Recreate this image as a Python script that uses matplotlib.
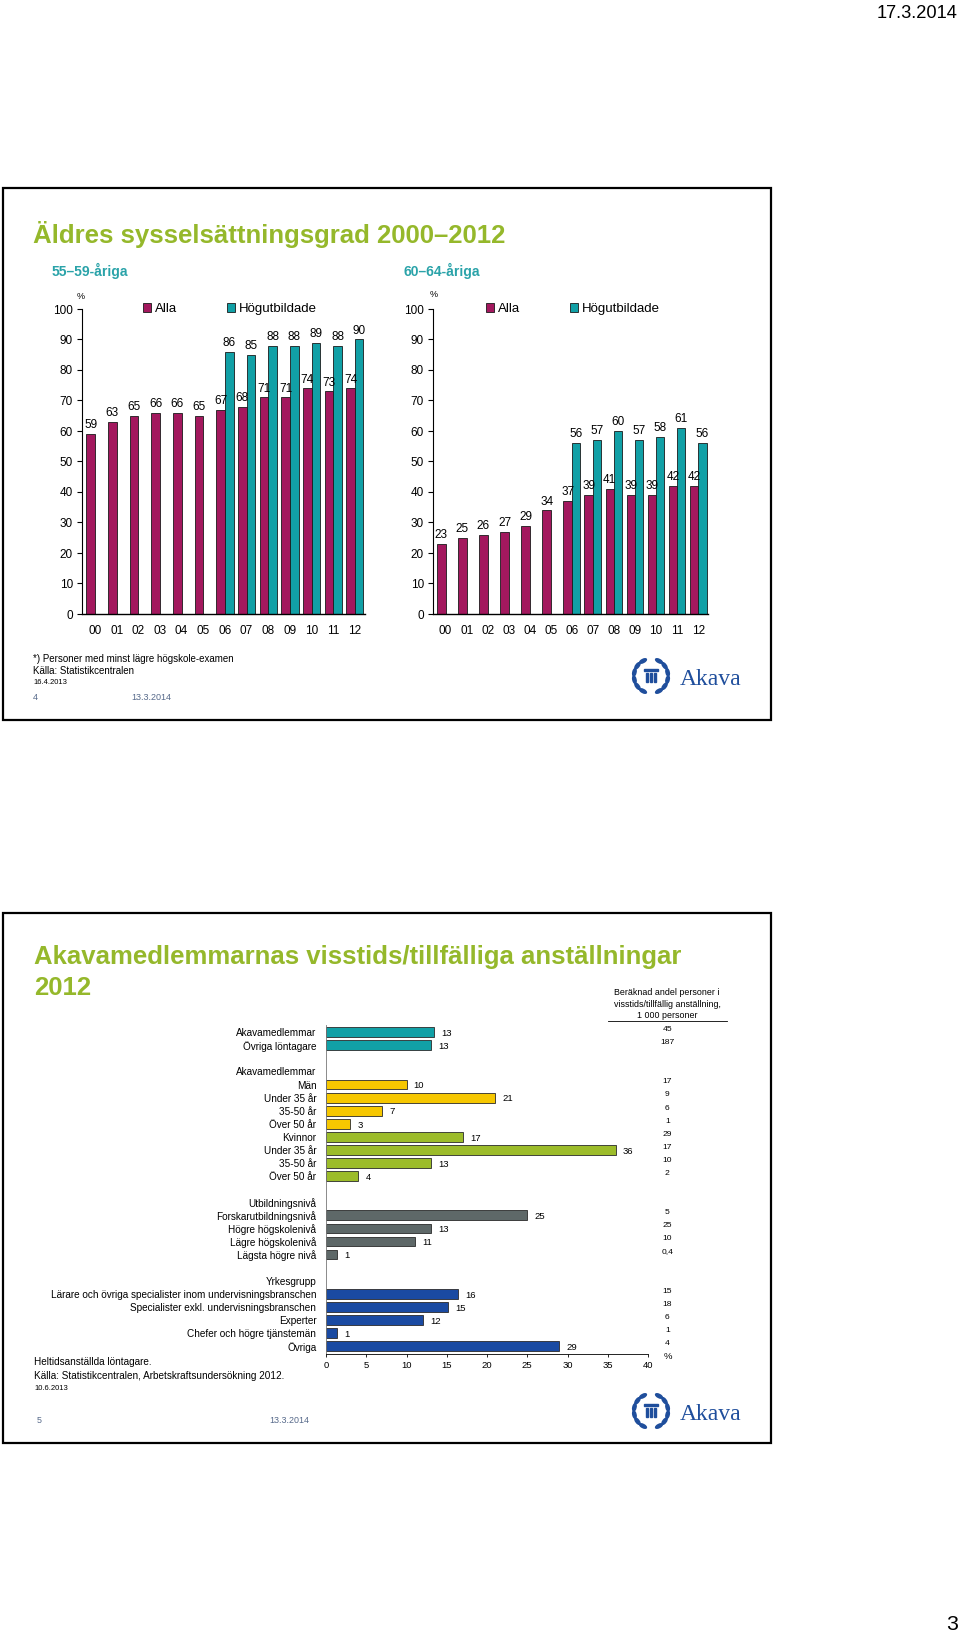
import numpy as np
import matplotlib
matplotlib.use('Agg')
import matplotlib.pyplot as plt
from matplotlib import font_manager
from matplotlib.patches import Rectangle, Ellipse

W, H = 960, 1635

# ---- slide 4: employment rate of older people, %
years = ['00', '01', '02', '03', '04', '05', '06', '07', '08', '09', '10', '11', '12']
alla_55_59 = [59, 63, 65, 66, 66, 65, 67, 68, 71, 71, 74, 73, 74]
hog_55_59 = [86, 85, 88, 88, 89, 88, 90]      # Högutbildade, 06-12
alla_60_64 = [23, 25, 26, 27, 29, 34, 37, 39, 41, 39, 39, 42, 42]
hog_60_64 = [56, 57, 60, 57, 58, 61, 56]
hog_from = 6

# ---- slide 5: share in fixed-term jobs 2012, %  (+ estimate in 1 000 persons)
total_labels = ['Akavamedlemmar', 'Övriga löntagare']
total_pct = [13.4, 13.0]
total_thous = ['45', '187']

men_labels = ['Män', 'Under 35 år', '35-50 år', 'Över 50 år']
men_pct = [10, 21, 7, 3]
men_thous = ['17', '9', '6', '1']

women_labels = ['Kvinnor', 'Under 35 år', '35-50 år', 'Över 50 år']
women_pct = [17, 36, 13, 4]
women_thous = ['29', '17', '10', '2']

edu_labels = ['Forskarutbildningsnivå', 'Högre högskolenivå', 'Lägre högskolenivå', 'Lägsta högre nivå']
edu_pct = [25, 13, 11, 1.4]
edu_thous = ['5', '25', '10', '0,4']

occ_labels = ['Lärare och övriga specialister inom undervisningsbranschen',
              'Specialister exkl. undervisningsbranschen', 'Experter',
              'Chefer och högre tjänstemän', 'Övriga']
occ_pct = [16.4, 15.2, 12, 1.4, 29]
occ_thous = ['15', '18', '6', '1', '4']

MAG = '#A3185E'
TEAL = '#11A0A6'
GREEN_T = '#95B82B'
SUB_T = '#2AA3A9'
YEL = '#F6C700'
LGREEN = '#9CBC2A'
GREY = '#5E6868'
BLUE = '#1A4AA2'
LOGO = '#1F4E9C'
SLATE = '#56698A'

fonts = {f.name for f in font_manager.fontManager.ttflist}
if 'Liberation Sans Narrow' in fonts:
    narrow, nk = 'Liberation Sans Narrow', 1.0
else:
    narrow, nk = 'Liberation Sans', 0.85
plt.rcParams['font.family'] = ['Liberation Sans', 'DejaVu Sans']

fig = plt.figure(figsize=(W / 100, H / 100), dpi=100)
page = fig.add_axes([0, 0, 1, 1])
page.set_xlim(0, W)
page.set_ylim(H, 0)
page.axis('off')


def px_axes(x0, y0, x1, y1):
    # axes from pixel box (y counted from the top)
    ax = fig.add_axes([x0 / W, 1 - y1 / H, (x1 - x0) / W, (y1 - y0) / H])
    ax.patch.set_alpha(0)
    return ax


def akava_logo(cx, cy):
    r = 17
    for t in np.r_[np.linspace(118, 242, 6), np.linspace(-62, 62, 6)]:
        tr = np.radians(t)
        px, py = cx + r * np.cos(tr), cy - r * np.sin(tr)
        ang = np.degrees(np.arctan2(-np.cos(tr), -np.sin(tr)))
        page.add_patch(Ellipse((px, py), 7.5, 3.2, angle=ang, color=LOGO))
    page.add_patch(Rectangle((cx - 7, cy - 7), 14, 2.4, color=LOGO))
    for dx in (-4, 0, 4):
        page.add_patch(Rectangle((cx + dx - 0.9, cy - 3), 1.8, 9, color=LOGO))
    page.text(cx + 29, cy + 3, 'Akava', family=['Liberation Serif', 'DejaVu Serif'],
              fontsize=17, color=LOGO, ha='left', va='center')


# page furniture
page.text(958, 13, '17.3.2014', family=narrow, fontsize=15.5 * nk, ha='right', va='center')
page.text(958, 1624, '3', family=narrow, fontsize=18 * nk, ha='right', va='center')
page.add_patch(Rectangle((3, 188), 768, 532, fill=False, lw=1.6, ec='black'))
page.add_patch(Rectangle((3, 913), 768, 530, fill=False, lw=1.6, ec='black'))

# ---------------- slide 4 ----------------
page.text(33, 234, 'Äldres sysselsättningsgrad 2000–2012', fontsize=18.5,
          fontweight='bold', color=GREEN_T, ha='left', va='center')
page.text(52, 271, '55–59-åriga', fontsize=10, fontweight='bold', color=SUB_T, va='center')
page.text(403, 271, '60–64-åriga', fontsize=10, fontweight='bold', color=SUB_T, va='center')


def column_chart(ax, alla, hog, legend_x):
    x = np.arange(len(years))
    b1 = ax.bar(x - 0.2, alla, 0.4, color=MAG, edgecolor='#1a1a1a', lw=0.6, label='Alla')
    b2 = ax.bar(x[hog_from:] + 0.2, hog, 0.4, color=TEAL, edgecolor='#1a1a1a', lw=0.6,
                label='Högutbildade')
    ax.bar_label(b1, padding=2, fontsize=8.5)
    ax.bar_label(b2, padding=2, fontsize=8.5)
    ax.set_xlim(-0.6, 12.47)
    ax.set_ylim(0, 100)
    ax.set_yticks(range(0, 101, 10))
    ax.set_xticks(x, years)
    ax.tick_params(axis='x', length=0, pad=8, labelsize=8.5)
    ax.tick_params(axis='y', length=3.5, width=0.8, pad=3, labelsize=8.5)
    ax.spines['top'].set_visible(False)
    ax.spines['right'].set_visible(False)
    ax.spines['left'].set_linewidth(0.8)
    ax.spines['bottom'].set_linewidth(1.0)
    ax.legend(loc='center left', bbox_to_anchor=(legend_x, 1.0), ncol=2, frameon=False,
              borderpad=0, borderaxespad=0, handlelength=0.6, handleheight=0.6,
              handletextpad=0.3, columnspacing=3.8, fontsize=9.5)


ax_a = px_axes(82, 309, 365, 614)
column_chart(ax_a, alla_55_59, hog_55_59, 0.216)
ax_b = px_axes(433, 309, 708, 614)
column_chart(ax_b, alla_60_64, hog_60_64, 0.193)
page.text(81, 296, '%', fontsize=6.5, ha='center', va='center')
page.text(434, 294, '%', fontsize=6.5, ha='center', va='center')

page.text(33, 659, '*) Personer med minst lägre högskole-examen', fontsize=7, va='center')
page.text(33, 671, 'Källa: Statistikcentralen', fontsize=7, va='center')
page.text(33, 682, '16.4.2013', fontsize=5.5, va='center')
page.text(33, 697, '4', fontsize=6.5, color=SLATE, va='center')
page.text(131, 697, '13.3.2014', fontsize=6.5, color=SLATE, va='center')
akava_logo(651, 676)

# ---------------- slide 5 ----------------
page.text(34, 957, 'Akavamedlemmarnas visstids/tillfälliga anställningar', fontsize=18.5,
          fontweight='bold', color=GREEN_T, va='center')
page.text(34, 988, '2012', fontsize=18.5, fontweight='bold', color=GREEN_T, va='center')

rows = []
for lab, v, t in zip(total_labels, total_pct, total_thous):
    rows.append((lab, v, t, TEAL))
rows.append(('', None, None, None))
rows.append(('Akavamedlemmar', None, None, None))
for lab, v, t in zip(men_labels, men_pct, men_thous):
    rows.append((lab, v, t, YEL))
for lab, v, t in zip(women_labels, women_pct, women_thous):
    rows.append((lab, v, t, LGREEN))
rows.append(('', None, None, None))
rows.append(('Utbildningsnivå', None, None, None))
for lab, v, t in zip(edu_labels, edu_pct, edu_thous):
    rows.append((lab, v, t, GREY))
rows.append(('', None, None, None))
rows.append(('Yrkesgrupp', None, None, None))
for lab, v, t in zip(occ_labels, occ_pct, occ_thous):
    rows.append((lab, v, t, BLUE))

ax2 = px_axes(326, 1025, 648, 1354)
bar_y = [i for i, r in enumerate(rows) if r[1] is not None]
ax2.barh(bar_y, [rows[i][1] for i in bar_y], height=0.75,
         color=[rows[i][3] for i in bar_y], edgecolor='#2a2a2a', lw=0.6)
for i in bar_y:
    lab, v, t, c = rows[i]
    ax2.text(v + 0.9, i + 0.1, f'{v:.0f}', family=narrow, fontsize=8 * nk, va='center')
    ax2.text(42.4, i - 0.2, t, family=narrow, fontsize=7.2 * nk, ha='center', va='center')
lab_y = [i for i, r in enumerate(rows) if r[0]]
ax2.set_yticks(lab_y, [rows[i][0] for i in lab_y], family=narrow, fontsize=8.5 * nk)
ax2.set_ylim(24.6, -0.55)
ax2.set_xlim(0, 40)
ax2.set_xticks(range(0, 41, 5))
ax2.tick_params(axis='y', length=0, pad=7)
ax2.tick_params(axis='x', length=2, width=0.6, pad=3, labelsize=8 * nk)
for lbl in ax2.get_xticklabels():
    lbl.set_family(narrow)
ax2.spines['top'].set_visible(False)
ax2.spines['right'].set_visible(False)
ax2.spines['left'].set_linewidth(0.6)
ax2.spines['left'].set_color('#777777')
ax2.spines['bottom'].set_linewidth(0.6)

page.text(667, 992, 'Beräknad andel personer i', family=narrow, fontsize=7.5 * nk, ha='center', va='center')
page.text(667, 1004, 'visstids/tillfällig anställning,', family=narrow, fontsize=7.5 * nk, ha='center', va='center')
page.text(667, 1015, '1 000 personer', family=narrow, fontsize=7.5 * nk, ha='center', va='center')
page.plot([608, 727], [1021, 1021], color='black', lw=0.6)
page.text(668, 1356, '%', family=narrow, fontsize=8 * nk, ha='center', va='center')

page.text(34, 1362, 'Heltidsanställda löntagare.', family=narrow, fontsize=8.5 * nk, va='center')
page.text(34, 1376, 'Källa: Statistikcentralen, Arbetskraftsundersökning 2012.', family=narrow,
          fontsize=8.5 * nk, va='center')
page.text(34, 1388, '10.6.2013', family=narrow, fontsize=6.5 * nk, va='center')
page.text(37, 1420, '5', family=narrow, fontsize=7.5 * nk, color=SLATE, va='center')
page.text(269, 1420, '13.3.2014', family=narrow, fontsize=7.5 * nk, color=SLATE, va='center')
akava_logo(651, 1411)

fig.savefig('out.png', dpi=100)
